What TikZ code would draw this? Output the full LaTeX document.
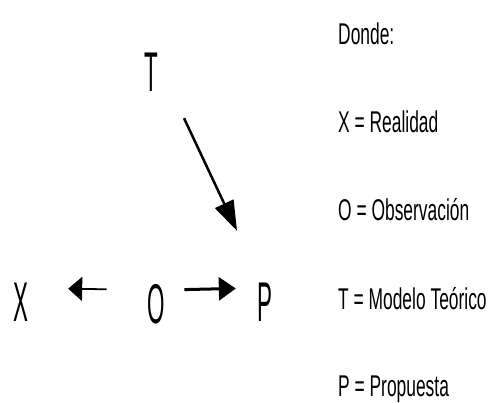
\documentclass[tikz,border=0pt]{standalone}
\usepackage{fontspec}
\usepackage{tikz}
\usetikzlibrary{arrows.meta, positioning}
\newfontfamily\letterfont[FakeStretch=0.4]{Liberation Sans}
\newfontfamily\legendfont[FakeStretch=0.58]{Liberation Sans}

\begin{document}
\begin{tikzpicture}[x=1pt, y=-1pt,
        letter/.style={inner sep=0pt, anchor=base, text height=40pt, text depth=0pt, font=\letterfont\fontsize{56}{56}\selectfont},
        legend/.style={inner sep=0pt, anchor=base west, font=\legendfont\fontsize{30}{30}\selectfont},
        edge/.style={-{Triangle[length=17pt, width=23pt]}, line width=3pt},
        thinedge/.style={-{Triangle[length=14pt, width=24pt]}, line width=1.8pt},
        slantedge/.style={-{Triangle[length=30pt, width=20pt]}, line width=2.5pt}
    ]
        \useasboundingbox (0,0) rectangle (492,403);

        % Nodes
        \node[letter] (T) at (151, 92) {T};
        \node[letter] (X) at (21, 321) {X};
        \node[letter] (O) at (156, 323) {O};
        \node[letter] (P) at (265, 321) {P};

        % Edges
        \draw[thinedge, shorten <=40.5pt, shorten >=39.5pt] ([yshift=13pt]O.west) -- ([yshift=13pt]X.east);
        \draw[edge, shorten <=19.5pt, shorten >=21.5pt] ([yshift=13pt]O.east) -- ([yshift=13pt]P.west);
        \draw[slantedge, shorten <=28.7pt, shorten >=55.2pt] ([xshift=20.8pt]T.south) -- ([xshift=-4.5pt]P.north);

        % Legend
        \node[legend] (donde) at (338, 45) {Donde:};
        \node[legend] (legX) at (338, 133) {X = Realidad};
        \node[legend] (legO) at (338, 221) {O = Observación};
        \node[legend] (legT) at (338, 309) {T = Modelo Teórico};
        \node[legend] (legP) at (338, 396) {P = Propuesta};

    \end{tikzpicture}
\end{document}
